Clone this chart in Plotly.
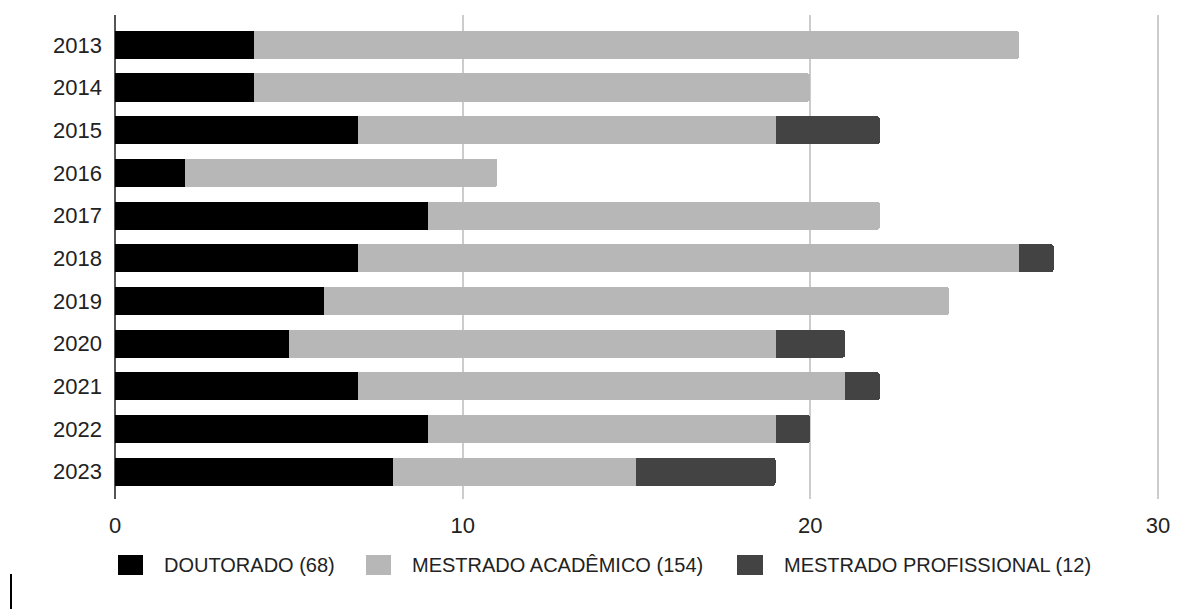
import plotly.graph_objects as go

years = ["2013", "2014", "2015", "2016", "2017", "2018", "2019", "2020", "2021", "2022", "2023"]
doutorado = [4, 4, 7, 2, 9, 7, 6, 5, 7, 9, 8]
mestrado_academico = [22, 16, 12, 9, 13, 19, 18, 14, 14, 10, 7]
mestrado_profissional = [0, 0, 3, 0, 0, 1, 0, 2, 1, 1, 4]
x_ticks = [0, 10, 20, 30]

series = [
    ("DOUTORADO", doutorado, "#000000"),
    ("MESTRADO ACADÊMICO", mestrado_academico, "#b7b7b7"),
    ("MESTRADO PROFISSIONAL", mestrado_profissional, "#434343"),
]

W, H = 1188, 609
L, R, T, B = 115, 1159, 15, 499
FONT = "Liberation Sans, Arial, sans-serif"

fig = go.Figure()
for name, vals, color in series:
    fig.add_trace(go.Bar(
        y=years, x=vals, name=name, orientation="h",
        marker=dict(color=color, line=dict(width=0)),
        width=0.66, showlegend=False,
    ))

def px_x(p):
    return (p - L) / (R - L)

def px_y(p):
    return (B - p) / (B - T)

# custom legend
legend_items = [
    (118, 143, 162),
    (366, 391, 410),
    (737, 763, 782),
]
shapes = []
annotations = []
for (sx0, sx1, tx), (name, vals, color) in zip(legend_items, series):
    shapes.append(dict(
        type="rect", xref="paper", yref="paper",
        x0=px_x(sx0), x1=px_x(sx1), y0=px_y(575), y1=px_y(555),
        fillcolor=color, line=dict(width=0),
    ))
    annotations.append(dict(
        xref="paper", yref="paper", x=px_x(tx), y=px_y(565),
        xanchor="left", yanchor="middle", showarrow=False,
        text=f"{name} ({sum(vals)})",
        font=dict(family=FONT, size=20, color="#222222"),
    ))

# stray cursor mark at bottom-left
shapes.append(dict(
    type="line", xref="paper", yref="paper",
    x0=px_x(11), x1=px_x(11), y0=px_y(574), y1=px_y(609),
    line=dict(color="#000000", width=2),
))

fig.update_layout(
    width=W, height=H,
    margin=dict(l=L, r=W - R, t=T, b=H - B, pad=0),
    barmode="stack",
    barcornerradius=3,
    plot_bgcolor="white", paper_bgcolor="white",
    font=dict(family=FONT, size=22, color="#222222"),
    shapes=shapes,
    annotations=annotations,
    xaxis=dict(
        range=[0, 30.03], tickvals=x_ticks, ticktext=[str(v) for v in x_ticks],
        showgrid=True, gridcolor="#cccccc", gridwidth=2,
        zeroline=True, zerolinecolor="#555555", zerolinewidth=2,
        showline=False, ticks="", ticklabelstandoff=11,
        tickfont=dict(family=FONT, size=22, color="#222222"),
        fixedrange=True,
    ),
    yaxis=dict(
        type="category", categoryorder="array", categoryarray=years,
        range=[10.64, -0.70],
        showgrid=False, showline=False, zeroline=False, ticks="",
        ticklabelstandoff=12,
        tickfont=dict(family=FONT, size=22, color="#222222"),
        fixedrange=True,
    ),
)

fig.write_html("out.html")
